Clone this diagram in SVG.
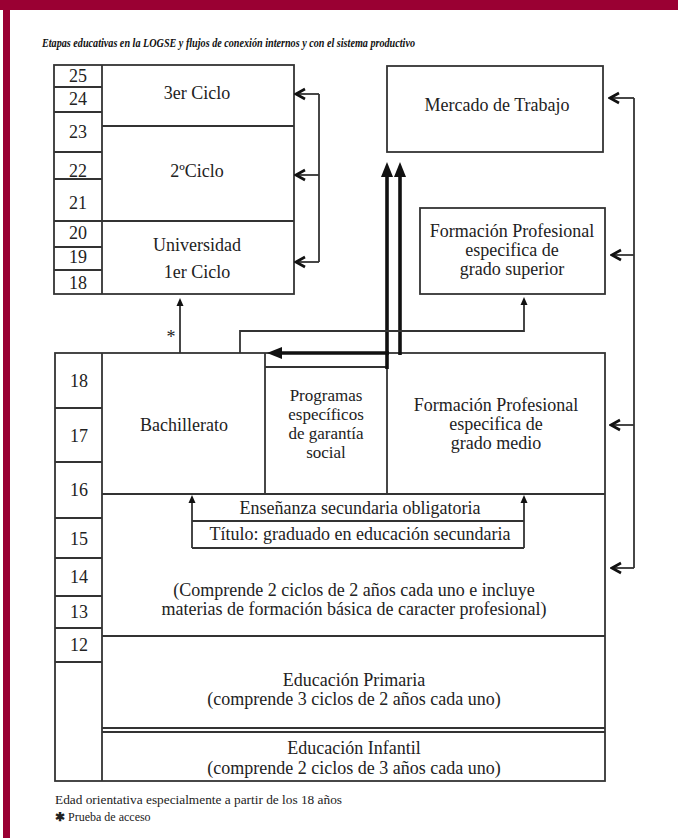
<svg xmlns="http://www.w3.org/2000/svg" width="678" height="838" viewBox="0 0 678 838">
<style>
.ln{stroke:#333;stroke-width:1.8;fill:none}
.bx{stroke:#333;stroke-width:1.8;fill:#fff}
.thk{stroke:#111;stroke-width:3.6;fill:none}
.t{font-family:"Liberation Serif","Times New Roman",serif;font-size:18px;fill:#222;text-anchor:middle}
.tp{font-family:"Liberation Serif","Times New Roman",serif;font-size:17px;fill:#222;text-anchor:middle}
.age{font-family:"Liberation Serif","Times New Roman",serif;font-size:18px;fill:#222;text-anchor:middle}
.note{font-family:"Liberation Serif","Times New Roman",serif;font-size:12px;fill:#222}
</style>
<defs>
<marker id="open" markerUnits="userSpaceOnUse" viewBox="-12 -8 14 16" markerWidth="14" markerHeight="16" refX="0" refY="0" orient="auto">
<path d="M-9,-5 L0,0 L-9,5" fill="none" stroke="#111" stroke-width="2.6" stroke-linejoin="miter"/>
</marker>
<marker id="big" markerUnits="userSpaceOnUse" viewBox="0 -7 16 14" markerWidth="16" markerHeight="14" refX="0" refY="0" orient="auto">
<path d="M0,-6 L15,0 L0,6 Z" fill="#111"/>
</marker>
<marker id="small" markerUnits="userSpaceOnUse" viewBox="0 -4 9 8" markerWidth="9" markerHeight="8" refX="0" refY="0" orient="auto">
<path d="M0,-3.5 L8,0 L0,3.5 Z" fill="#111"/>
</marker>
</defs>
<rect x="0" y="0" width="678" height="838" fill="#fff"/>
<rect x="0" y="0" width="678" height="10" fill="#9a0033"/>
<rect x="3" y="0" width="7" height="838" fill="#9a0033"/>
<text x="42" y="47" font-family="Liberation Serif, serif" font-size="12" font-weight="bold" font-style="italic" fill="#111" textLength="373" lengthAdjust="spacingAndGlyphs">Etapas educativas en la LOGSE y flujos de conexión internos y con el sistema productivo</text>

<g id="universidad">
<rect class="bx" x="54" y="65" width="240" height="229"/>
<path class="ln" d="M102,65 V294 M54,87 H102 M54,112 H102 M54,152 H102 M54,179 H102 M54,221 H102 M54,247 H102 M54,270 H102 M102,126 H294 M102,221 H294"/>
<text class="age" x="78" y="82">25</text>
<text class="age" x="78" y="105">24</text>
<text class="age" x="78" y="138">23</text>
<text class="age" x="78" y="177">22</text>
<text class="age" x="78" y="209">21</text>
<text class="age" x="78" y="239">20</text>
<text class="age" x="78" y="263">19</text>
<text class="age" x="78" y="289">18</text>
<text class="t" x="197" y="99">3er Ciclo</text>
<text class="t" x="197" y="177">2ºCiclo</text>
<text class="t" x="197" y="251">Universidad</text>
<text class="t" x="197" y="278">1er Ciclo</text>
</g>

<g id="mercado">
<rect class="bx" x="387" y="66" width="216" height="86"/>
<text class="t" x="497" y="111">Mercado de Trabajo</text>
</g>

<g id="fp-superior">
<rect class="bx" x="420" y="208" width="185" height="86"/>
<text class="t" x="512" y="237">Formación Profesional</text>
<text class="t" x="512" y="256">especifica de</text>
<text class="t" x="512" y="275">grado superior</text>
</g>

<g id="bloque-inferior">
<rect class="bx" x="55" y="353" width="550" height="428"/>
<path class="ln" d="M102,353 V781 M55,408 H102 M55,462 H102 M55,518 H102 M55,558 H102 M55,596 H102 M55,628 H102 M55,662 H102"/>
<text class="age" x="79" y="387">18</text>
<text class="age" x="79" y="442">17</text>
<text class="age" x="79" y="496">16</text>
<text class="age" x="79" y="545">15</text>
<text class="age" x="79" y="583">14</text>
<text class="age" x="79" y="618">13</text>
<text class="age" x="79" y="651">12</text>
</g>

<g id="bachillerato">
<path class="ln" d="M265,353 V494"/>
<text class="t" x="184" y="431">Bachillerato</text>
</g>

<g id="garantia-social">
<path class="ln" d="M265,367 H387 V494"/>
<text class="tp" x="326" y="401">Programas</text>
<text class="tp" x="326" y="420">específicos</text>
<text class="tp" x="326" y="439">de garantía</text>
<text class="tp" x="326" y="458">social</text>
</g>

<g id="fp-medio">
<text class="t" x="496" y="411">Formación Profesional</text>
<text class="t" x="496" y="430">especifica de</text>
<text class="t" x="496" y="449">grado medio</text>
</g>

<g id="eso">
<path class="ln" d="M102,494 H605 M102,636 H605 M192,521 H524 M192,548 H524"/>
<text class="t" x="360" y="514">Enseñanza secundaria obligatoria</text>
<text class="t" x="360" y="540">Título: graduado en educación secundaria</text>
<text class="t" x="354" y="596">(Comprende 2 ciclos de 2 años cada uno e incluye</text>
<text class="t" x="354" y="615">materias de formación básica de caracter profesional)</text>
</g>

<g id="primaria">
<path class="ln" d="M102,728 H605 M102,732 H605"/>
<text class="t" x="354" y="686">Educación Primaria</text>
<text class="t" x="354" y="705">(comprende 3 ciclos de 2 años cada uno)</text>
</g>

<g id="infantil">
<text class="t" x="354" y="754">Educación Infantil</text>
<text class="t" x="354" y="774">(comprende 2 ciclos de 3 años cada uno)</text>
</g>

<g id="connectors">
<path class="ln" d="M319,94 V262"/>
<path class="ln" d="M319,94 H296" marker-end="url(#open)"/>
<path class="ln" d="M319,175 H296" marker-end="url(#open)"/>
<path class="ln" d="M319,262 H296" marker-end="url(#open)"/>
<path class="ln" d="M634,98 V568"/>
<path class="ln" d="M634,98 H610" marker-end="url(#open)"/>
<path class="ln" d="M634,255 H612" marker-end="url(#open)"/>
<path class="ln" d="M634,425 H611" marker-end="url(#open)"/>
<path class="ln" d="M634,568 H612" marker-end="url(#open)"/>
<path class="thk" d="M387,369 V177" marker-end="url(#big)"/>
<path class="thk" d="M400,355 V177" marker-end="url(#big)"/>
<path class="thk" d="M389,353 H282" marker-end="url(#big)"/>
<path class="ln" d="M240,353 V331 H524 V305" marker-end="url(#small)"/>
<path class="ln" d="M180,353 V306" marker-end="url(#small)"/>
<path class="ln" d="M192,548 V503" marker-end="url(#small)"/>
<path class="ln" d="M524,548 V503" marker-end="url(#small)"/>
<text x="171" y="343" font-family="Liberation Serif, serif" font-size="18" fill="#222" text-anchor="middle">*</text>
</g>

<text class="note" x="55" y="804" textLength="287" lengthAdjust="spacingAndGlyphs">Edad orientativa especialmente a partir de los 18 años</text>
<text class="note" x="55" y="821"><tspan font-weight="bold">✱</tspan> Prueba de acceso</text>
</svg>
